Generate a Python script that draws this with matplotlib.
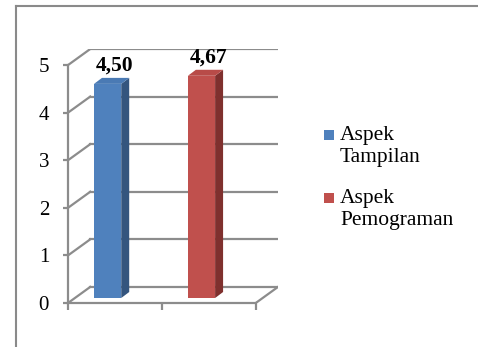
import numpy as np
import matplotlib.pyplot as plt
from matplotlib.patches import Polygon, Rectangle
from matplotlib.lines import Line2D

plt.rcParams['font.family'] = ['Liberation Serif', 'DejaVu Serif']

# Data
series = ["Aspek\nTampilan", "Aspek\nPemograman"]
values = [4.50, 4.67]
value_labels = ["4,50", "4,67"]
yticks = [0, 1, 2, 3, 4, 5]

front_colors = ["#4F81BD", "#C0504D"]
side_colors = ["#34557E", "#7F302E"]
top_colors = ["#4A7AB4", "#B84B48"]
grid_color = "#8C8C8C"

# 3D look: wall depth and bar geometry in data units
DX, DY = 0.237, 0.338
BAR_W = 0.29
BAR_DX, BAR_DY = 0.085, 0.126
BAR_BASE = 0.105
BAR_OFF = 0.277

W, H = 478, 347
fig = plt.figure(figsize=(W / 100, H / 100), dpi=100)
ax = fig.add_axes([68 / W, 1 - 303 / H, 210 / W, 254 / H])
ax.set_xlim(0, 2 + DX)
ax.set_ylim(0, 5 + DY)
for s in ax.spines.values():
    s.set_visible(False)

lw = 1.6
# back wall gridlines and side-wall diagonals
for y in yticks:
    ax.plot([DX, 2 + DX], [y + DY, y + DY], color=grid_color, lw=lw, zorder=1)
    ax.plot([0, DX], [y, y + DY], color=grid_color, lw=lw, zorder=1)
# front axes and floor edge
ax.plot([0, 0], [0, 5], color=grid_color, lw=lw, zorder=1, clip_on=False)
ax.plot([0, 2], [0, 0], color=grid_color, lw=lw, zorder=1, clip_on=False)
ax.plot([2, 2 + DX], [0, DY], color=grid_color, lw=lw, zorder=1)

ax.set_yticks(yticks)
ax.set_yticklabels([str(t) for t in yticks], fontsize=15)
ax.set_xticks([0, 1, 2])
ax.set_xticklabels([])
ax.tick_params(axis='y', length=3.6, width=lw, color=grid_color, pad=10)
ax.tick_params(axis='x', length=5, width=lw, color=grid_color)

# bars: front face, side face, top face
for i, (v, lab) in enumerate(zip(values, value_labels)):
    x0 = i + BAR_OFF
    x1 = x0 + BAR_W
    y0 = BAR_BASE
    y1 = BAR_BASE + v
    ax.bar(x0, v, width=BAR_W, bottom=y0, align='edge', color=front_colors[i], zorder=3)
    ax.add_patch(Polygon([(x1, y0), (x1 + BAR_DX, y0 + BAR_DY), (x1 + BAR_DX, y1 + BAR_DY), (x1, y1)],
                         closed=True, facecolor=side_colors[i], edgecolor='none', zorder=3))
    ax.add_patch(Polygon([(x0, y1), (x1, y1), (x1 + BAR_DX, y1 + BAR_DY), (x0 + BAR_DX, y1 + BAR_DY)],
                         closed=True, facecolor=top_colors[i], edgecolor='none', zorder=3))
    ax.annotate(lab, xy=(x0 + (BAR_W + BAR_DX) / 2 + 0.03, y1 + BAR_DY), xytext=(0, 1.5),
                textcoords='offset points', ha='center', va='bottom',
                fontsize=15.5, fontweight='bold', annotation_clip=False)

# legend: square key next to the first line of each two-line entry
for i, (name, c) in enumerate(zip(series, front_colors)):
    top = 130 + i * 63
    fig.add_artist(Rectangle((324 / W, 1 - (top + 9.5) / H), 10 / W, 9.5 / H,
                             transform=fig.transFigure, facecolor=c, edgecolor='none'))
    fig.text(340 / W, 1 - (top - 4) / H, name, ha='left', va='top',
             fontsize=15.5, linespacing=1.2)

# outer frame (top and left edges)
fig.add_artist(Line2D([16 / W, 16 / W], [0, 1 - 6 / H], color="#8A8A8A", lw=1.5))
fig.add_artist(Line2D([16 / W, 1], [1 - 6 / H, 1 - 6 / H], color="#8A8A8A", lw=1.5))

fig.savefig("out.png", dpi=100)
